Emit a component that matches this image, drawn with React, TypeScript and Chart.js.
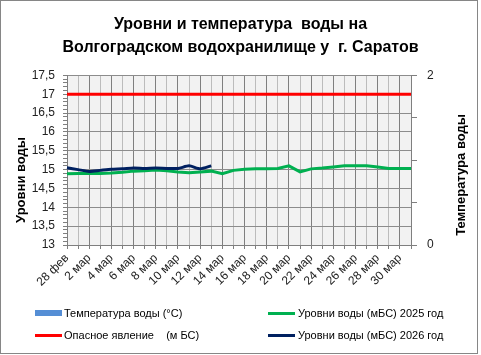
import React, { useEffect, useRef } from 'react';
import { Chart, registerables } from 'chart.js';

Chart.register(...registerables);

const categories: string[] = [
  '28 фев', '1 мар', '2 мар', '3 мар', '4 мар', '5 мар', '6 мар', '7 мар',
  '8 мар', '9 мар', '10 мар', '11 мар', '12 мар', '13 мар', '14 мар', '15 мар',
  '16 мар', '17 мар', '18 мар', '19 мар', '20 мар', '21 мар', '22 мар', '23 мар',
  '24 мар', '25 мар', '26 мар', '27 мар', '28 мар', '29 мар', '30 мар', '31 мар',
];

const level2025: number[] = [
  14.89, 14.9, 14.9, 14.9, 14.91, 14.93, 14.96, 14.97,
  14.99, 14.97, 14.94, 14.92, 14.94, 14.96, 14.89, 14.98,
  15.01, 15.02, 15.02, 15.03, 15.1, 14.94, 15.02, 15.04,
  15.07, 15.1, 15.1, 15.1, 15.07, 15.03, 15.03, 15.03,
];

const level2026: number[] = [
  15.05, 15.0, 14.95, 14.98, 15.01, 15.02, 15.04, 15.03,
  15.04, 15.03, 15.03, 15.1, 15.02, 15.1,
];

const dangerLevel: number[] = [
  17, 17, 17, 17, 17, 17, 17, 17, 17, 17, 17, 17, 17, 17, 17, 17,
  17, 17, 17, 17, 17, 17, 17, 17, 17, 17, 17, 17, 17, 17, 17, 17,
];

const temperature: (number | null)[] = [];

const yMin = 13;
const yMax = 17.5;
const y1Ticks: number[] = [0, 0.5, 1, 1.5, 2];
const y1Labels: number[] = [0, 2];

const titleLines: string[] = [
  'Уровни и температура  воды на',
  'Волгоградском водохранилище у  г. Саратов',
];

const FONT = "'Liberation Sans', Arial, sans-serif";

const bgPlugin = {
  id: 'plotBg',
  beforeDraw(chart: any) {
    const { ctx, chartArea: a } = chart;
    ctx.save();
    ctx.fillStyle = '#f2f2f2';
    ctx.fillRect(a.left, a.top, a.right - a.left, a.bottom - a.top);
    ctx.restore();
  },
};

function isHalf(v: number) {
  return Math.round(v * 10) % 5 === 0;
}

export default function App() {
  const ref = useRef<HTMLCanvasElement | null>(null);

  useEffect(() => {
    document.body.style.margin = '0';
    const canvas = ref.current;
    if (!canvas) return;
    const chart = new Chart(canvas, {
      type: 'line',
      data: {
        labels: categories,
        datasets: [
          {
            type: 'bar',
            label: 'Температура воды (°C)',
            data: temperature as any,
            backgroundColor: '#558ed5',
            yAxisID: 'y1',
            order: 4,
          } as any,
          {
            label: 'Уровни воды (мБС) 2025 год',
            data: level2025,
            borderColor: '#00b050',
            backgroundColor: '#00b050',
            borderWidth: 3,
            pointRadius: 0,
            tension: 0,
            yAxisID: 'y',
            order: 2,
          },
          {
            label: 'Опасное явление    (м БС)',
            data: dangerLevel,
            borderColor: '#ff0000',
            backgroundColor: '#ff0000',
            borderWidth: 3,
            pointRadius: 0,
            yAxisID: 'y',
            order: 3,
          },
          {
            label: 'Уровни воды (мБС) 2026 год',
            data: level2026,
            borderColor: '#002060',
            backgroundColor: '#002060',
            borderWidth: 3,
            pointRadius: 0,
            tension: 0.2,
            yAxisID: 'y',
            order: 1,
          },
        ],
      },
      options: {
        responsive: false,
        animation: false,
        devicePixelRatio: 1,
        layout: { padding: { left: 0, right: 0, top: 0, bottom: 60 } },
        plugins: {
          legend: { display: false },
          tooltip: { enabled: false },
          title: {
            display: true,
            text: titleLines,
            color: '#000',
            font: { family: FONT, size: 16, weight: 'bold', lineHeight: 1.45 },
            padding: { top: 13, bottom: 16 },
          },
        },
        scales: {
          x: {
            type: 'category',
            offset: false,
            grid: {
              offset: false,
              color: (ctx: any) => (ctx.index % 2 === 0 ? '#7f7f7f' : '#bcbcbc'),
              tickColor: '#7f7f7f',
              tickLength: 4,
              lineWidth: 1,
            },
            border: { color: '#7f7f7f' },
            ticks: {
              autoSkip: false,
              minRotation: 45,
              maxRotation: 45,
              padding: 2,
              color: '#222',
              font: { family: FONT, size: 12 },
              callback: (_v: any, i: number) => (i % 2 === 0 ? categories[i] : ''),
            },
            afterFit: (s: any) => {
              s.height = 50;
            },
          },
          y: {
            type: 'linear',
            position: 'left',
            min: yMin,
            max: yMax,
            afterBuildTicks: (s: any) => {
              const t: { value: number }[] = [];
              for (let i = 0; i <= Math.round((yMax - yMin) * 10); i++) {
                t.push({ value: Math.round((yMin + i / 10) * 10) / 10 });
              }
              s.ticks = t;
            },
            grid: {
              color: (ctx: any) =>
                ctx.tick && isHalf(ctx.tick.value) ? '#8c8c8c' : 'rgba(0,0,0,0)',
              tickColor: '#7f7f7f',
              tickLength: 4,
            },
            border: { color: '#7f7f7f' },
            ticks: {
              autoSkip: false,
              padding: 8,
              color: '#222',
              font: { family: FONT, size: 12 },
              callback: (v: any) =>
                isHalf(Number(v)) ? String(Math.round(Number(v) * 10) / 10).replace('.', ',') : '',
            },
            afterFit: (s: any) => {
              s.width = 67;
            },
          },
          y1: {
            type: 'linear',
            position: 'right',
            min: 0,
            max: 2,
            afterBuildTicks: (s: any) => {
              s.ticks = y1Ticks.map((v) => ({ value: v }));
            },
            grid: {
              drawOnChartArea: false,
              tickColor: '#7f7f7f',
              tickLength: 6,
            },
            border: { color: '#7f7f7f' },
            ticks: {
              autoSkip: false,
              padding: 10,
              color: '#222',
              font: { family: FONT, size: 12 },
              callback: (v: any) => (y1Labels.includes(Number(v)) ? String(v) : ''),
            },
            afterFit: (s: any) => {
              s.width = 70;
            },
          },
        },
      },
      plugins: [bgPlugin],
    } as any);
    return () => chart.destroy();
  }, []);

  const legendText: React.CSSProperties = {
    position: 'absolute',
    fontFamily: FONT,
    fontSize: 11,
    color: '#000',
    whiteSpace: 'pre',
    lineHeight: '14px',
  };

  const axisTitle: React.CSSProperties = {
    position: 'absolute',
    fontFamily: FONT,
    fontSize: 13,
    fontWeight: 'bold',
    color: '#000',
    whiteSpace: 'pre',
    transform: 'translate(-50%, -50%) rotate(-90deg)',
  };

  return (
    <div style={{ position: 'relative', width: 481, height: 355, background: '#fff' }}>
      <canvas ref={ref} width={481} height={355} style={{ position: 'absolute', left: 0, top: 0 }} />
      <div
        style={{
          position: 'absolute',
          left: 0,
          top: 0,
          width: 478,
          height: 354,
          border: '1px solid #868686',
          boxSizing: 'border-box',
          pointerEvents: 'none',
        }}
      />
      <div style={{ ...axisTitle, left: 20, top: 180 }}>Уровни воды</div>
      <div style={{ ...axisTitle, left: 460, top: 175 }}>Температура воды</div>

      <div style={{ position: 'absolute', left: 35, top: 310, width: 27, height: 6, background: '#558ed5' }} />
      <div style={{ ...legendText, left: 64, top: 306 }}>Температура воды (°C)</div>

      <div style={{ position: 'absolute', left: 35, top: 334, width: 27, height: 3, background: '#ff0000' }} />
      <div style={{ ...legendText, left: 64, top: 328 }}>Опасное явление    (м БС)</div>

      <div style={{ position: 'absolute', left: 268, top: 312, width: 27, height: 3, background: '#00b050' }} />
      <div style={{ ...legendText, left: 298, top: 306 }}>Уровни воды (мБС) 2025 год</div>

      <div style={{ position: 'absolute', left: 268, top: 334, width: 27, height: 3, background: '#002060' }} />
      <div style={{ ...legendText, left: 298, top: 328 }}>Уровни воды (мБС) 2026 год</div>
    </div>
  );
}
